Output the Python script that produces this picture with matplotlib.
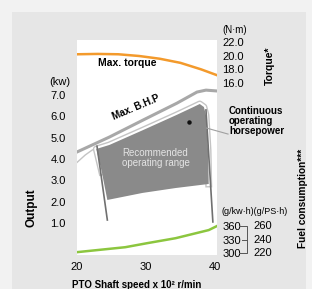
import matplotlib
matplotlib.use("Agg")
import matplotlib.pyplot as plt
import matplotlib.transforms as mtransforms
from matplotlib.patches import Rectangle, Polygon

# PTO speed in x100 r/min
torque_speed = [20, 23, 26, 29, 32, 35, 38, 40.3]
torque_nm = [20.2, 20.25, 20.2, 19.95, 19.55, 18.95, 18.0, 17.15]

bhp_speed = [20, 24.7, 29.6, 34.5, 37.4, 38.7, 40.3]
bhp_kw = [4.33, 5.03, 5.83, 6.62, 7.14, 7.23, 7.19]

fuel_speed = [20, 27.0, 30.2, 34.3, 39.1, 40.3]
fuel_gkwh = [302, 313, 322, 333, 351, 360]

# recommended operating range (upper edge first, then lower edge back)
range_speed = [23.6, 22.8, 24.7, 29.6, 34.4, 36.9, 37.8, 38.4, 38.7, 39.0, 39.1,
               34.3, 29.5, 24.4]
range_kw = [3.39, 4.47, 4.66, 5.36, 6.06, 6.44, 6.58, 6.44, 6.06, 4.42, 2.83,
            2.64, 2.41, 2.08]
n_upper = 11
left_limit_speed = [22.9, 24.4]
left_limit_kw = [4.6, 1.14]
right_limit_speed = [38.7, 39.7]
right_limit_kw = [6.3, 1.05]
bump_speed = [20, 21.2, 22.2, 22.9]
bump_kw = [3.84, 4.19, 4.42, 4.51]
cont_point = (36.2, 5.74)
leader_speed = [38.8, 41.9]
leader_kw = [5.45, 5.17]

speed_ticks = [20, 30, 40]
kw_ticks = [1.0, 2.0, 3.0, 4.0, 5.0, 6.0, 7.0]
torque_ticks = [16, 18, 20, 22]
fuel_ticks = [300, 330, 360]
ps_labels = ["220", "240", "260"]

plt.rcParams['font.family'] = ['Liberation Sans', 'DejaVu Sans']
bold = ['Liberation Sans', 'DejaVu Sans']
tick_fs = 8

W, H = 312, 289
fig = plt.figure(figsize=(W / 100, H / 100), dpi=100, facecolor='#f2f2f2')
fig.patches.append(Rectangle((12 / W, 0), 294 / W, 1 - 12 / H, transform=fig.transFigure,
                             facecolor='#e6e6e6', edgecolor='none', zorder=-10))

ax = fig.add_axes([77 / W, 1 - 255 / H, 140 / W, 215 / H])
ax.set_facecolor('white')
ax.set_xlim(20, 40.3)
ax.set_ylim(-0.5, 9.58)
for s in ax.spines.values():
    s.set_visible(False)
ax.set_xticks(speed_ticks)
ax.set_xticklabels([str(v) for v in speed_ticks])
ax.set_yticks(kw_ticks)
ax.set_yticklabels(["%.1f" % v for v in kw_ticks])
ax.tick_params(axis='y', length=0, pad=8, labelsize=tick_fs)
ax.tick_params(axis='x', length=0, pad=5, labelsize=tick_fs)

ax_t = ax.twinx()
ax_t.set_ylim(-9.05, 22.28)
ax_t.set_yticks(torque_ticks)
ax_t.set_yticklabels(["%.1f" % v for v in torque_ticks])
ax_t.tick_params(axis='y', length=0, pad=4, labelsize=tick_fs)

ax_f = ax.twinx()
ax_f.set_ylim(295.7, 772.8)
ax_f.set_yticks(fuel_ticks)
ax_f.set_yticklabels([str(v) for v in fuel_ticks])
ax_f.tick_params(axis='y', length=0, pad=4, labelsize=tick_fs)
for a in (ax_t, ax_f):
    for s in a.spines.values():
        s.set_visible(False)

# operating range: grey rim and white band on the upper edge, dark fill
up_s, up_k = range_speed[:n_upper], range_kw[:n_upper]
ax.plot(up_s, up_k, color='#c4c4c4', lw=5, zorder=2, solid_joinstyle='round')
ax.plot(up_s, up_k, color='white', lw=3, zorder=3, solid_joinstyle='round')
ax.add_patch(Polygon(list(zip(range_speed, range_kw)), closed=True,
                     facecolor='#8a8a8a', edgecolor='none', zorder=4))
ax.plot(bump_speed, bump_kw, color='#c4c4c4', lw=1, zorder=2)
ax.plot(left_limit_speed, left_limit_kw, color='#707070', lw=1.2, zorder=5)
ax.plot(right_limit_speed, right_limit_kw, color='#707070', lw=1.2, zorder=5)
ax.plot([cont_point[0]], [cont_point[1]], 'o', color='#111111', ms=2.2, zorder=6)
ax.plot(leader_speed, leader_kw, color='#a0a0a0', lw=0.8, clip_on=False, zorder=6)

ax.plot(bhp_speed, bhp_kw, color='#a8a8a8', lw=2.2, zorder=5)
ax_t.plot(torque_speed, torque_nm, color='#f39a2c', lw=1.8)
ax_f.plot(fuel_speed, fuel_gkwh, color='#8cc63f', lw=1.8)

ax.text(27.3, 8.49, "Max. torque", family=bold, fontweight='bold', fontsize=7.5,
        ha='center', va='center', zorder=7)
ax.text(28.6, 6.42, "Max. B.H.P", family=bold, fontweight='bold', fontsize=7,
        ha='center', va='center', rotation=23, zorder=7)
ax.text(31.4, 4.05, "Recommended\noperating range", fontsize=7, color='#e4e4e4',
        ha='center', va='center', linespacing=1.05, zorder=7)

# g/PS.h labels and bracket
bt = mtransforms.blended_transform_factory(ax.transAxes, ax_f.transData)
for f, lab in zip(fuel_ticks, ps_labels):
    ax_f.text(1.26, f, lab, transform=bt, fontsize=tick_fs, ha='left', va='center')
ax_f.plot([1.157, 1.214, 1.214, 1.157], [360, 360, 300, 300], color='#555555', lw=0.7,
          transform=bt, clip_on=False)
ax_f.plot([1.179, 1.214], [330, 330], color='#555555', lw=0.7, transform=bt, clip_on=False)

fig.text(60 / W, 1 - 82 / H, "(kw)", fontsize=8, ha='center', va='center')
fig.text(222 / W, 1 - 30 / H, "(N\u00b7m)", fontsize=7, ha='left', va='center')
fig.text(221 / W, 1 - 212 / H, "(g/kw\u00b7h)(g/PS\u00b7h)", fontsize=6.5, ha='left', va='center')
fig.text(229 / W, 1 - 121 / H, "Continuous\noperating\nhorsepower", family=bold,
         fontweight='bold', fontsize=7, ha='left', va='center', linespacing=1.0)
fig.text(32 / W, 1 - 208 / H, "Output", family=bold, fontweight='bold', fontsize=8.5,
         rotation=90, ha='center', va='center')
fig.text(270 / W, 1 - 66 / H, "Torque*", family=bold, fontweight='bold', fontsize=7.5,
         rotation=90, ha='center', va='center')
fig.text(303 / W, 1 - 198 / H, "Fuel consumption***", family=bold, fontweight='bold',
         fontsize=7.3, rotation=90, ha='center', va='center')
fig.text(72 / W, 1 - 285 / H, "PTO Shaft speed x 10\u00b2 r/min", family=bold,
         fontweight='bold', fontsize=7, ha='left', va='center')

fig.savefig("out.png", dpi=100, facecolor=fig.get_facecolor())
